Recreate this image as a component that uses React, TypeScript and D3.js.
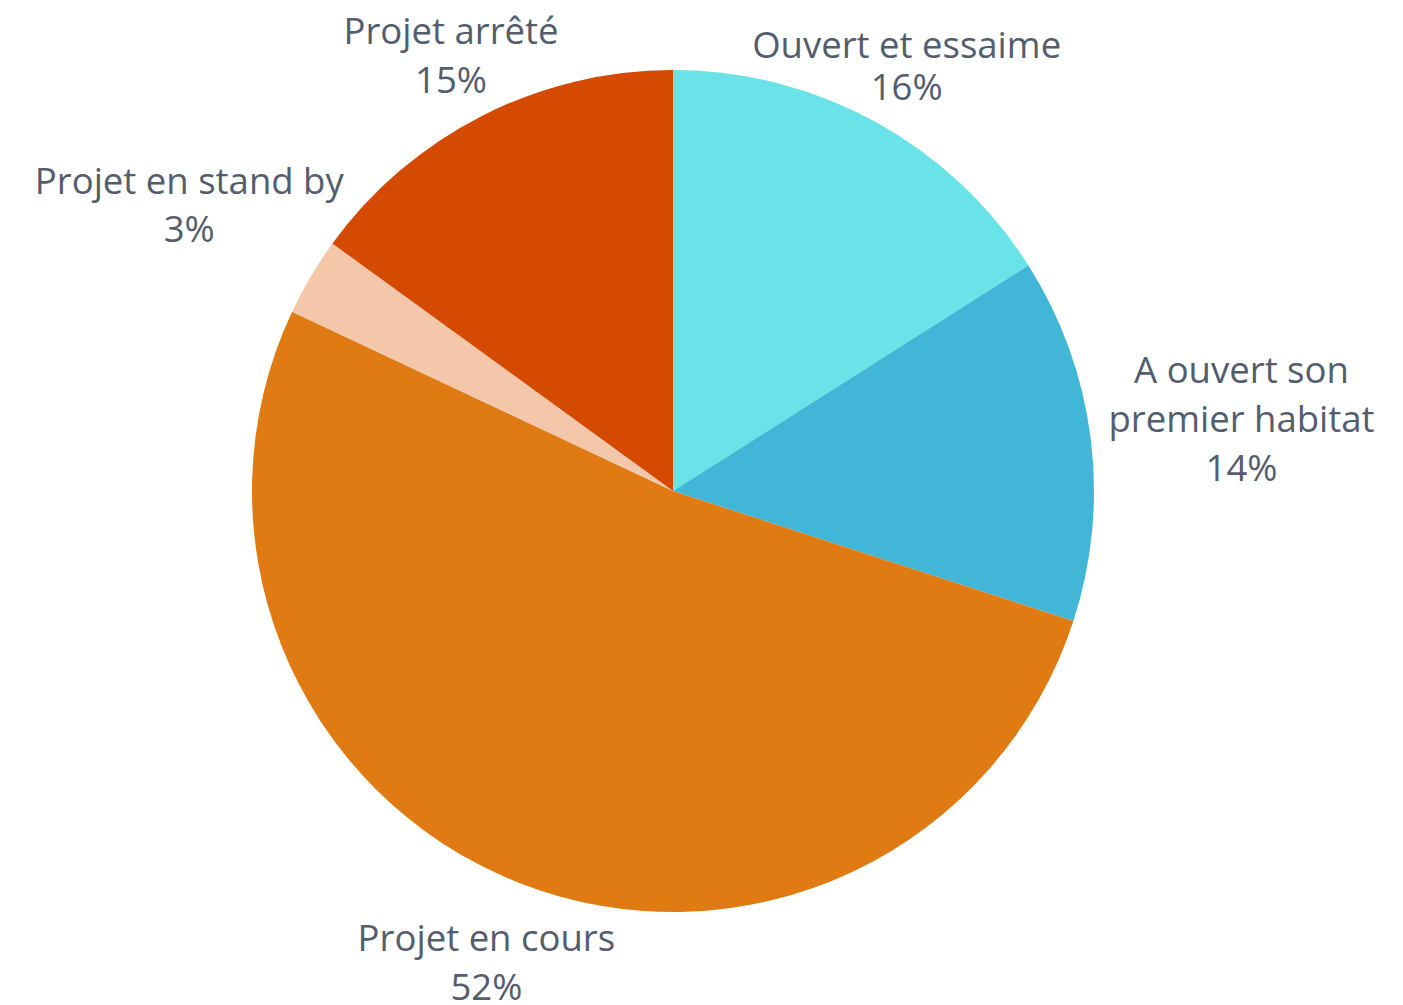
import React from "react";
import * as d3 from "d3";

const categories = [
  "Ouvert et essaime",
  "A ouvert son premier habitat",
  "Projet en cours",
  "Projet en stand by",
  "Projet arrêté",
];
const values = [16, 14, 52, 3, 15];
const labelLines = [
  ["Ouvert et essaime"],
  ["A ouvert son", "premier habitat"],
  ["Projet en cours"],
  ["Projet en stand by"],
  ["Projet arrêté"],
];
const colors = ["#6ae3e8", "#42b6d6", "#e07b13", "#f4c7ab", "#d34a00"];

// layout
const W = 1403;
const H = 1005;
const CX = 673;
const CY = 491;
const R = 421;
const FONT = 36.5;
const CAP = FONT * 0.714;
const labelOffset = [64, 152, 86, 141, 68]; // distance beyond radius to label block centre
const lineGap = [42, 49, 48.5, 48.5, 48.5];

export default function App() {
  const total = d3.sum(values);
  const pie = d3
    .pie<number>()
    .sort(null)
    .value((d) => d);
  const arcs = pie(values);
  const arc = d3.arc<d3.PieArcDatum<number>>().innerRadius(0).outerRadius(R);

  return (
    <svg
      width={W}
      height={H}
      style={{ position: "absolute", left: 0, top: 0, background: "#fff" }}
      fontFamily="'Open Sans', 'Noto Sans', sans-serif"
    >
      <g transform={`translate(${CX},${CY})`}>
        {arcs.map((a, i) => (
          <path key={categories[i]} d={arc(a) || ""} fill={colors[i]} />
        ))}
        {arcs.map((a, i) => {
          const mid = (a.startAngle + a.endAngle) / 2;
          const dist = R + labelOffset[i];
          const x = Math.sin(mid) * dist;
          const y = -Math.cos(mid) * dist;
          const lines = [
            ...labelLines[i],
            d3.format(".0f")((values[i] / total) * 100) + "%",
          ];
          const n = lines.length;
          const L = lineGap[i];
          const firstBase = y - ((n - 1) * L) / 2 + CAP / 2;
          return (
            <text
              key={"l" + i}
              textAnchor="middle"
              fontSize={FONT}
              fill="#535d6d"
            >
              {lines.map((t, j) => (
                <tspan key={j} x={x} y={firstBase + j * L}>
                  {t}
                </tspan>
              ))}
            </text>
          );
        })}
      </g>
    </svg>
  );
}
